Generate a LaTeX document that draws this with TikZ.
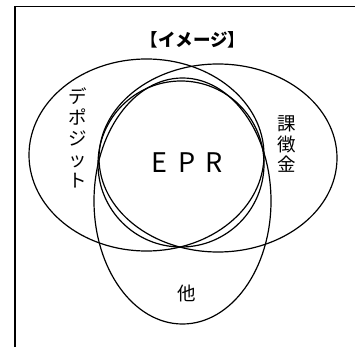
\documentclass[tikz,border=0pt]{standalone}
\usepackage{fontspec}
\newfontfamily\jp{Noto Sans CJK JP}
\tikzset{
  venn/.style={draw=black, line width=1.2pt},
  frameline/.style={draw=black, line width=1.3pt},
  jptext/.style={inner sep=0pt, font=\jp\fontsize{18.5}{21}\selectfont, align=center},
}
\begin{document}
\begin{tikzpicture}[x=1pt,y=-1pt]
\useasboundingbox (0,0) rectangle (355,347);
% frame
\draw[frameline] (15,347) -- (15,6.7) -- (355,6.7);
% shapes
\draw[venn] (146.5,155) ellipse [x radius=117.5pt, y radius=96pt];
\draw[venn] (218,158) ellipse [x radius=119pt, y radius=94pt];
\draw[venn] (182.5,201) ellipse [x radius=88.5pt, y radius=123pt];
\draw[venn] (181,164) circle [radius=83pt];
% texts
\node[jptext, font=\jp\bfseries\fontsize{17.5}{21}\selectfont] (title) at (193,40) {【イメージ】};
\node[jptext] (depo) at (78,138) {デ\\ポ\\ジ\\ッ\\ト};
\node[jptext, font=\jp\fontsize{18.5}{20.5}\selectfont] (kacho) at (286.5,144) {課\\徴\\金};
\node[jptext] (hoka) at (187,293) {他};
\node[inner sep=0pt, font=\jp\fontsize{27}{30}\selectfont] (epr) at (187.5,163) {E\hspace{11pt}P\hspace{10pt}R};
\end{tikzpicture}
\end{document}
